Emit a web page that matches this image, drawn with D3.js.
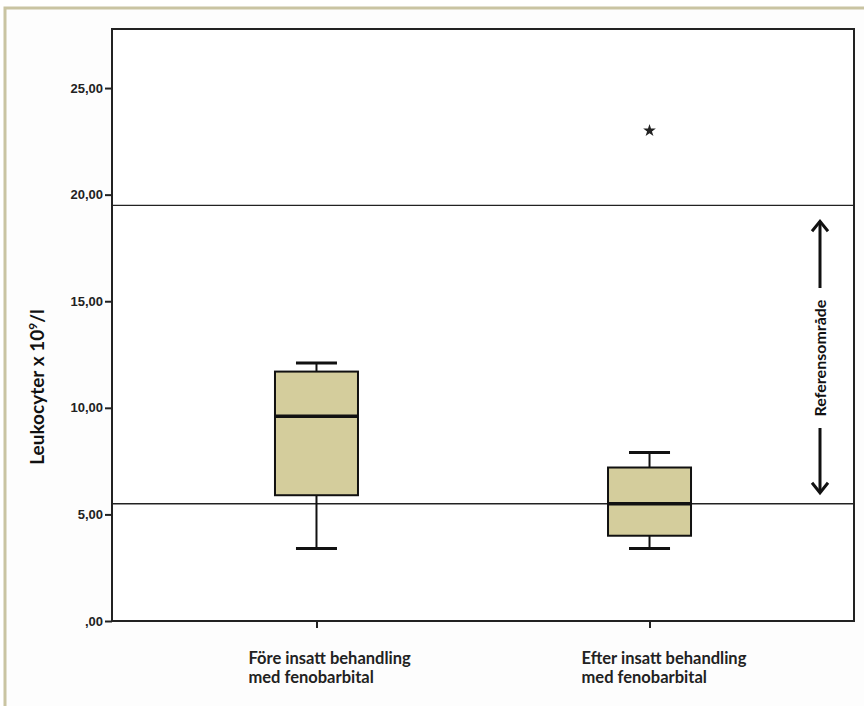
<!DOCTYPE html>
<html>
<head>
<meta charset="utf-8">
<script src="https://cdn.jsdelivr.net/npm/d3@7"></script>
<style>
  body { margin: 0; background: #fff; }
  svg { display: block; }
</style>
</head>
<body>
<svg id="chart" width="864" height="706"></svg>
<script>
// groups and their box stats (min, q1, median, q3, max)
const groups = ['Före insatt behandling|med fenobarbital', 'Efter insatt behandling|med fenobarbital'];
const whiskerLow = [3.4, 3.4];
const q1 = [5.9, 4.0];
const median = [9.6, 5.5];
const q3 = [11.7, 7.2];
const whiskerHigh = [12.1, 7.9];
const outliers = [[], [23.0]];
const refLow = 5.5;
const refHigh = 19.5;
const yTicks = [0, 5, 10, 15, 20, 25];

const svg = d3.select('#chart');
const plotLeft = 112, plotRight = 854, plotTop = 29, plotBottom = 621;

// outer frame
svg.append('rect')
  .attr('x', 5).attr('y', 8).attr('width', 880).attr('height', 720)
  .attr('fill', '#fdfdfd').attr('stroke', '#c9c4a2').attr('stroke-width', 3);

svg.append('rect')
  .attr('x', plotLeft).attr('y', plotTop).attr('width', plotRight - plotLeft).attr('height', plotBottom - plotTop)
  .attr('fill', '#fff').attr('stroke', '#222').attr('stroke-width', 2);

let y = d3.scaleLinear().domain([0, 27.77]).range([plotBottom, plotTop]);
let x = d3.scalePoint().domain(groups).range([plotLeft, plotRight]).padding(0.614);

// reference lines
[refLow, refHigh].forEach((v) => {
  svg.append('line')
    .attr('x1', plotLeft).attr('x2', plotRight)
    .attr('y1', y(v)).attr('y2', y(v))
    .attr('stroke', '#222').attr('stroke-width', 1.3);
});

// y axis
let yAxis = d3.axisLeft(y).tickValues(yTicks).tickSize(7).tickPadding(2)
  .tickFormat((d) => d === 0 ? ',00' : d3.format('.2f')(d).replace('.', ','));
let yg = svg.append('g').attr('transform', `translate(${plotLeft},0)`).call(yAxis);
yg.select('.domain').remove();
yg.selectAll('line').attr('stroke', '#222').attr('stroke-width', 2);
yg.selectAll('text')
  .attr('font-family', 'Liberation Sans, Arial, sans-serif')
  .attr('font-weight', 'bold').attr('font-size', 13).attr('fill', '#222');

// x axis ticks
let xAxis = d3.axisBottom(x).tickSize(7).tickFormat('');
let xg = svg.append('g').attr('transform', `translate(0,${plotBottom})`).call(xAxis);
xg.select('.domain').remove();
xg.selectAll('line').attr('stroke', '#222').attr('stroke-width', 2);

// x labels
groups.forEach((g) => {
  let lines = g.split('|');
  let cx = x(g);
  let t = svg.append('text')
    .attr('x', cx - 68).attr('y', 664)
    .attr('font-family', 'Lato, Open Sans, sans-serif')
    .attr('font-weight', 'bold').attr('font-size', 16.5).attr('fill', '#222');
  lines.forEach((l, k) => {
    t.append('tspan').attr('x', cx - 68).attr('dy', k === 0 ? 0 : 19).text(l);
  });
});

// y label
svg.append('text')
  .attr('transform', `translate(44,${(plotTop + plotBottom) / 2 + 62}) rotate(-90)`)
  .attr('text-anchor', 'middle')
  .attr('font-family', 'Lato, Open Sans, sans-serif')
  .attr('font-weight', 'bold').attr('font-size', 19).attr('fill', '#111')
  .html('Leukocyter x 10<tspan dy="-7" font-size="12">9</tspan><tspan dy="7">/l</tspan>');

// boxes
let boxW = 83, capW = 41;
groups.forEach((g, i) => {
  let cx = x(g);
  let gg = svg.append('g');
  gg.append('line')
    .attr('x1', cx).attr('x2', cx).attr('y1', y(whiskerHigh[i])).attr('y2', y(q3[i]))
    .attr('stroke', '#111').attr('stroke-width', 2);
  gg.append('line')
    .attr('x1', cx).attr('x2', cx).attr('y1', y(q1[i])).attr('y2', y(whiskerLow[i]))
    .attr('stroke', '#111').attr('stroke-width', 2);
  [whiskerHigh[i], whiskerLow[i]].forEach((v) => {
    gg.append('line')
      .attr('x1', cx - capW / 2).attr('x2', cx + capW / 2).attr('y1', y(v)).attr('y2', y(v))
      .attr('stroke', '#111').attr('stroke-width', 3);
  });
  gg.append('rect')
    .attr('x', cx - boxW / 2).attr('y', y(q3[i]))
    .attr('width', boxW).attr('height', y(q1[i]) - y(q3[i]))
    .attr('fill', '#d4cd9c').attr('stroke', '#111').attr('stroke-width', 2);
  gg.append('line')
    .attr('x1', cx - boxW / 2).attr('x2', cx + boxW / 2).attr('y1', y(median[i])).attr('y2', y(median[i]))
    .attr('stroke', '#111').attr('stroke-width', 3.5);
  outliers[i].forEach((v) => {
    gg.append('path')
      .attr('d', d3.symbol(d3.symbolStar, 50)())
      .attr('transform', `translate(${cx},${y(v)})`)
      .attr('fill', '#222');
  });
});

// reference range arrow
let ax = 820;
let aTop = y(refHigh) + 16, aBot = y(refLow) - 11;
let textMid = 358;
let textHalf = 70;
svg.append('line').attr('x1', ax).attr('x2', ax).attr('y1', aTop).attr('y2', textMid - textHalf)
  .attr('stroke', '#111').attr('stroke-width', 3);
svg.append('line').attr('x1', ax).attr('x2', ax).attr('y1', textMid + textHalf).attr('y2', aBot)
  .attr('stroke', '#111').attr('stroke-width', 3);
svg.append('path')
  .attr('d', `M${ax - 8},${aTop + 10} L${ax},${aTop} L${ax + 8},${aTop + 10}`)
  .attr('fill', 'none').attr('stroke', '#111').attr('stroke-width', 3);
svg.append('path')
  .attr('d', `M${ax - 8},${aBot - 10} L${ax},${aBot} L${ax + 8},${aBot - 10}`)
  .attr('fill', 'none').attr('stroke', '#111').attr('stroke-width', 3);
svg.append('text')
  .attr('transform', `translate(${ax + 6},${textMid}) rotate(-90)`)
  .attr('text-anchor', 'middle')
  .attr('font-family', 'Lato, Open Sans, sans-serif')
  .attr('font-weight', 'bold').attr('font-size', 16).attr('fill', '#111')
  .text('Referensområde');
</script>
</body>
</html>
